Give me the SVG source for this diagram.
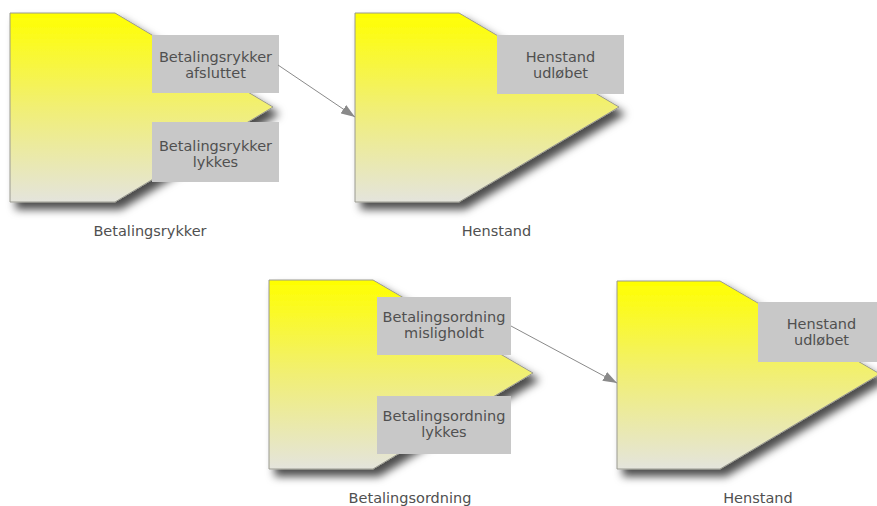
<svg xmlns="http://www.w3.org/2000/svg" width="877" height="506" viewBox="0 0 877 506">
  <style>
    .state { fill: url(#stateFill); stroke: #9a9a90; stroke-width: 1; filter: url(#shadow); }
    .exit { fill: #c8c8c8; }
    .txt { font-family: "DejaVu Sans", Verdana, sans-serif; font-size: 14.5px; fill: #505050; text-anchor: middle; }
    .edge { fill: none; stroke: #8a8a8a; stroke-width: 1; marker-end: url(#arrow); }
  </style>
  <defs>
    <linearGradient id="stateFill" x1="0" y1="0" x2="0" y2="1">
      <stop offset="0" stop-color="#ffff00"/>
      <stop offset="0.5" stop-color="#f1ef74"/>
      <stop offset="1" stop-color="#e4e4dc"/>
    </linearGradient>
    <filter id="shadow" x="-10%" y="-10%" width="130%" height="130%">
      <feDropShadow dx="6" dy="7" stdDeviation="4" flood-color="#000" flood-opacity="0.7"/>
    </filter>
    <marker id="arrow" viewBox="0 0 14 10" refX="14" refY="5" markerWidth="14" markerHeight="10" markerUnits="userSpaceOnUse" orient="auto">
      <path d="M0,0 L14,5 L0,10 Z" fill="#8a8a8a"/>
    </marker>
  </defs>

  <rect width="877" height="506" fill="#ffffff"/>

  <!-- Betalingsrykker -->
  <g id="betalingsrykker">
    <path class="state" d="M10,13 L115,13 L273,107 L115,202 L10,202 Z"/>
    <rect class="exit" x="152" y="35" width="127" height="58"/>
    <text class="txt" x="215.5" y="62">Betalingsrykker</text>
    <text class="txt" x="215.5" y="78">afsluttet</text>
    <rect class="exit" x="152" y="122" width="127" height="60"/>
    <text class="txt" x="215.5" y="151">Betalingsrykker</text>
    <text class="txt" x="215.5" y="167">lykkes</text>
    <text class="txt" x="150" y="236">Betalingsrykker</text>
  </g>

  <!-- Henstand (top) -->
  <g id="henstand-1">
    <path class="state" d="M355,13 L459,13 L619,107 L459,202 L355,202 Z"/>
    <rect class="exit" x="497" y="35" width="127" height="59"/>
    <text class="txt" x="560.5" y="62">Henstand</text>
    <text class="txt" x="560.5" y="78">udløbet</text>
    <text class="txt" x="496.5" y="236">Henstand</text>
  </g>

  <!-- Betalingsordning -->
  <g id="betalingsordning">
    <path class="state" d="M269,280 L373,280 L533,373 L373,469 L269,469 Z"/>
    <rect class="exit" x="377" y="297" width="134" height="58"/>
    <text class="txt" x="444" y="322">Betalingsordning</text>
    <text class="txt" x="444" y="338">misligholdt</text>
    <rect class="exit" x="377" y="396" width="134" height="58"/>
    <text class="txt" x="444" y="421">Betalingsordning</text>
    <text class="txt" x="444" y="437">lykkes</text>
    <text class="txt" x="410" y="503">Betalingsordning</text>
  </g>

  <!-- Henstand (bottom) -->
  <g id="henstand-2">
    <path class="state" d="M617,281 L720,281 L880,374 L720,469 L617,469 Z"/>
    <rect class="exit" x="758" y="302" width="127" height="60"/>
    <text class="txt" x="821.5" y="329">Henstand</text>
    <text class="txt" x="821.5" y="345">udløbet</text>
    <text class="txt" x="758" y="503">Henstand</text>
  </g>

  <!-- Transitions -->
  <g id="connectors">
    <line class="edge" x1="278" y1="65" x2="355" y2="117"/>
    <line class="edge" x1="511" y1="326" x2="617" y2="383"/>
  </g>
</svg>
